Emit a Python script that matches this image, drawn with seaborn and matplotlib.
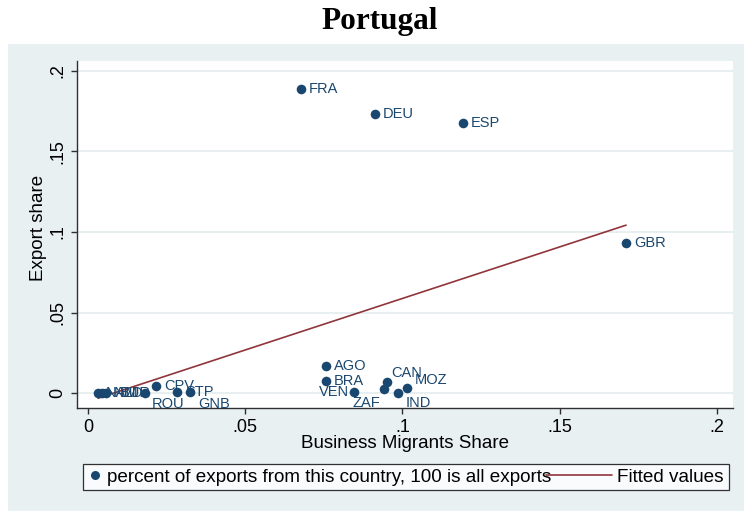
import numpy as np
import pandas as pd
import matplotlib
matplotlib.use("Agg")
import matplotlib.pyplot as plt
import seaborn as sns
from matplotlib.lines import Line2D
from matplotlib.patches import Rectangle
from matplotlib.legend_handler import HandlerBase

# ---- data ----
countries = ["FRA", "DEU", "ESP", "GBR", "AGO", "BRA", "VEN", "CAN", "ZAF",
             "IND", "MOZ", "CPV", "STP", "GNB", "ROU", "NAM", "NLD", "BUR"]
migrants_share = [0.0677, 0.0913, 0.1192, 0.1711, 0.0757, 0.0757, 0.0846, 0.0951, 0.0941,
                  0.0986, 0.1014, 0.0216, 0.0283, 0.0324, 0.0181, 0.0032, 0.0045, 0.0057]
export_share = [0.1888, 0.1733, 0.1677, 0.0932, 0.0168, 0.0075, 0.0006, 0.0068, 0.0025,
                0.0000, 0.0031, 0.0043, 0.0006, 0.0006, 0.0000, 0.0000, 0.0000, 0.0000]
x_ticks = [0, 0.05, 0.10, 0.15, 0.20]
x_tick_labels = ["0", ".05", ".1", ".15", ".2"]
y_ticks = [0, 0.05, 0.10, 0.15, 0.20]
y_tick_labels = ["0", ".05", ".1", ".15", ".2"]
legend_labels = ["percent of exports from this country, 100 is all exports", "Fitted values"]

df = pd.DataFrame({"country": countries, "mig": migrants_share, "exp": export_share})

# label placement (offset in px, horizontal alignment)
label_pos = {
    "VEN": (-5, 0, "right"), "ZAF": (-4, -14, "right"), "IND": (8, -10, "left"),
    "MOZ": (8, 8, "left"), "CAN": (4, 9, "left"), "ROU": (7, -11, "left"),
    "GNB": (8, -12, "left"), "NLD": (12, 0, "left"), "BUR": (14, 0, "left"),
}

NAVY = "#1a476f"
MAROON = "#90353b"
BG = "#e8f0f2"

sns.set_style("ticks")
plt.rcParams["font.family"] = ["Liberation Sans", "DejaVu Sans"]
plt.rcParams["text.color"] = "black"

fig = plt.figure(figsize=(7.44, 5.11), dpi=100)
fig.patch.set_facecolor("white")
fig.patches.append(Rectangle((8 / 744, 0), 736 / 744, 467 / 511, transform=fig.transFigure,
                             facecolor=BG, edgecolor="none", zorder=-10))

ax = fig.add_axes([77 / 744, 1 - 408 / 511, (733 - 77) / 744, (408 - 61) / 511])
ax.set_facecolor("white")

sns.regplot(data=df, x="mig", y="exp", scatter=False, ci=None, truncate=True, ax=ax,
            line_kws=dict(color=MAROON, lw=1.2, zorder=2))
sns.scatterplot(data=df, x="mig", y="exp", ax=ax, color=NAVY, s=48, linewidth=0,
                zorder=4, legend=False)

px2pt = 72 / 100
for c, xv, yv in zip(countries, migrants_share, export_share):
    dx, dy, ha = label_pos.get(c, (8, 0, "left"))
    ax.annotate(c, (xv, yv), xytext=(dx * px2pt, dy * px2pt), textcoords="offset points",
                ha=ha, va="center", fontsize=10.5, color=NAVY, zorder=3)

ax.set_xlim(-0.0035, 0.2051)
ax.set_ylim(-0.0093, 0.2062)
ax.set_xticks(x_ticks)
ax.set_xticklabels(x_tick_labels)
ax.set_yticks(y_ticks)
ax.set_yticklabels(y_tick_labels, rotation=90, va="center")
ax.tick_params(axis="both", labelsize=13, length=4.5, width=1, color="#303030",
               labelcolor="black", direction="out", pad=3.5)
for yv in y_ticks:
    ax.axhline(yv, color="#e3ecef", lw=1.2, zorder=0)

for s in ["top", "right"]:
    ax.spines[s].set_visible(False)
for s in ["left", "bottom"]:
    ax.spines[s].set_color("#303030")
    ax.spines[s].set_linewidth(1)

ax.set_xlabel("Business Migrants Share", fontsize=13.5, color="black")
ax.set_ylabel("Export share", fontsize=13.5, color="black")
ax.xaxis.set_label_coords(0.5, -(435 - 408) / (408 - 61))
ax.yaxis.set_label_coords(-(77 - 47) / (733 - 77), (408 - 228) / (408 - 61))

fig.text(380 / 744, 1 - 22 / 511, "Portugal", family=["Liberation Serif", "DejaVu Serif"],
         fontweight="bold", fontsize=22.5, ha="center", va="center", color="black")


class LongLineHandler(HandlerBase):
    def create_artists(self, legend, orig_handle, xdescent, ydescent, width, height,
                       fontsize, trans):
        y = height / 2 - ydescent
        ln = Line2D([-xdescent + width - 47, -xdescent + width], [y, y],
                    color=orig_handle.get_color(), lw=orig_handle.get_linewidth())
        ln.set_transform(trans)
        return [ln]


h1 = Line2D([], [], ls="none", marker="o", markersize=6.5, color=NAVY, markeredgewidth=0)
h2 = Line2D([], [], color=MAROON, lw=1.2)
leg = fig.legend([h1, h2], legend_labels, loc="center",
                 bbox_to_anchor=(406 / 744, 1 - 477 / 511), ncol=2, fontsize=13.6,
                 frameon=True, fancybox=False, shadow=False, handlelength=0.7,
                 handletextpad=0.3, columnspacing=2.5, borderpad=0.25,
                 handler_map={h2: LongLineHandler()})
leg.get_frame().set_edgecolor("black")
leg.get_frame().set_linewidth(0.9)
leg.get_frame().set_facecolor("white")

fig.savefig("out.png", dpi=100)
